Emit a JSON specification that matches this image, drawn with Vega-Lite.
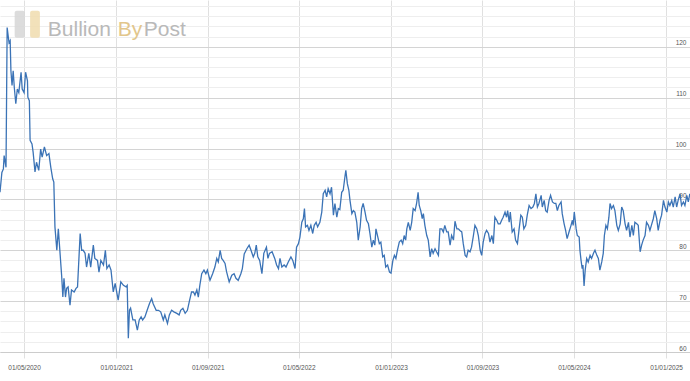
{
  "$schema": "https://vega.github.io/schema/vega-lite/v6.json",
  "width": 690,
  "height": 352,
  "autosize": {"type": "none"},
  "padding": {"left": 0, "top": 0, "right": 0, "bottom": 29},
  "background": "white",
  "config": {"view": {"stroke": null}, "font": "Liberation Sans"},
  "datasets": {
    "ratio": [
      {"d":"2020-02-27","v":91.4},{"d":"2020-03-03","v":95.3},{"d":"2020-03-07","v":96.0},{"d":"2020-03-09","v":98.6},{"d":"2020-03-14","v":96.3},
      {"d":"2020-03-17","v":123.8},{"d":"2020-03-22","v":120.8},{"d":"2020-03-25","v":121.2},{"d":"2020-03-27","v":115.3},{"d":"2020-03-30","v":112.4},
      {"d":"2020-04-02","v":115.3},{"d":"2020-04-05","v":112.0},{"d":"2020-04-09","v":108.8},{"d":"2020-04-13","v":111.7},{"d":"2020-04-17","v":111.0},
      {"d":"2020-04-23","v":115.0},{"d":"2020-04-26","v":111.7},{"d":"2020-05-01","v":111.0},{"d":"2020-05-05","v":115.0},{"d":"2020-05-10","v":113.3},
      {"d":"2020-05-11","v":110.1},{"d":"2020-05-15","v":109.4},{"d":"2020-05-17","v":101.6},{"d":"2020-05-22","v":100.9},{"d":"2020-05-25","v":99.3},
      {"d":"2020-05-30","v":95.4},{"d":"2020-06-03","v":97.3},{"d":"2020-06-09","v":95.7},{"d":"2020-06-14","v":99.9},{"d":"2020-06-18","v":98.3},
      {"d":"2020-06-24","v":100.3},{"d":"2020-06-30","v":98.6},{"d":"2020-07-06","v":99.0},{"d":"2020-07-11","v":96.3},{"d":"2020-07-16","v":94.05},
      {"d":"2020-07-19","v":93.4},{"d":"2020-07-22","v":84.6},{"d":"2020-07-27","v":80.0},{"d":"2020-07-31","v":84.2},{"d":"2020-08-04","v":80.0},
      {"d":"2020-08-09","v":74.8},{"d":"2020-08-12","v":70.8},{"d":"2020-08-15","v":74.5},{"d":"2020-08-19","v":70.8},{"d":"2020-08-22","v":72.5},
      {"d":"2020-08-26","v":72.8},{"d":"2020-08-31","v":69.2},{"d":"2020-09-04","v":72.2},{"d":"2020-09-11","v":71.8},{"d":"2020-09-16","v":72.5},
      {"d":"2020-09-20","v":72.8},{"d":"2020-09-27","v":83.3},{"d":"2020-10-01","v":80.0},{"d":"2020-10-05","v":80.0},{"d":"2020-10-10","v":79.4},
      {"d":"2020-10-14","v":76.7},{"d":"2020-10-20","v":79.4},{"d":"2020-10-25","v":76.7},{"d":"2020-11-01","v":81.0},{"d":"2020-11-05","v":78.4},
      {"d":"2020-11-12","v":78.0},{"d":"2020-11-16","v":75.7},{"d":"2020-11-21","v":78.0},{"d":"2020-11-28","v":77.1},{"d":"2020-12-03","v":80.0},
      {"d":"2020-12-07","v":76.4},{"d":"2020-12-13","v":77.1},{"d":"2020-12-18","v":76.1},{"d":"2020-12-24","v":71.8},{"d":"2020-12-29","v":73.5},
      {"d":"2021-01-02","v":71.8},{"d":"2021-01-06","v":70.2},{"d":"2021-01-13","v":73.8},{"d":"2021-01-20","v":73.1},{"d":"2021-01-27","v":72.8},
      {"d":"2021-01-30","v":73.1},{"d":"2021-02-02","v":62.7},{"d":"2021-02-05","v":68.2},{"d":"2021-02-08","v":68.6},{"d":"2021-02-14","v":66.3},
      {"d":"2021-02-20","v":66.3},{"d":"2021-02-26","v":64.3},{"d":"2021-03-03","v":66.3},{"d":"2021-03-08","v":66.9},{"d":"2021-03-12","v":66.3},
      {"d":"2021-03-18","v":66.9},{"d":"2021-03-24","v":68.2},{"d":"2021-03-30","v":69.5},{"d":"2021-04-05","v":70.5},{"d":"2021-04-09","v":69.5},
      {"d":"2021-04-17","v":68.2},{"d":"2021-04-23","v":68.2},{"d":"2021-04-29","v":67.9},{"d":"2021-05-06","v":66.3},{"d":"2021-05-10","v":67.3},
      {"d":"2021-05-17","v":65.6},{"d":"2021-05-22","v":67.3},{"d":"2021-05-28","v":68.2},{"d":"2021-06-03","v":67.9},{"d":"2021-06-11","v":67.6},
      {"d":"2021-06-17","v":67.3},{"d":"2021-06-21","v":68.2},{"d":"2021-06-27","v":68.6},{"d":"2021-07-03","v":67.6},{"d":"2021-07-09","v":68.2},
      {"d":"2021-07-14","v":69.9},{"d":"2021-07-20","v":71.8},{"d":"2021-07-25","v":71.8},{"d":"2021-07-29","v":71.2},{"d":"2021-08-03","v":72.2},
      {"d":"2021-08-07","v":70.8},{"d":"2021-08-11","v":73.1},{"d":"2021-08-16","v":75.4},{"d":"2021-08-22","v":76.1},{"d":"2021-08-27","v":75.4},
      {"d":"2021-08-31","v":76.1},{"d":"2021-09-07","v":74.1},{"d":"2021-09-14","v":75.4},{"d":"2021-09-20","v":76.7},{"d":"2021-09-25","v":78.4},
      {"d":"2021-09-29","v":77.7},{"d":"2021-10-04","v":80.0},{"d":"2021-10-08","v":78.4},{"d":"2021-10-12","v":78.0},{"d":"2021-10-17","v":77.4},
      {"d":"2021-10-21","v":75.8},{"d":"2021-10-28","v":73.8},{"d":"2021-11-04","v":75.1},{"d":"2021-11-10","v":75.4},{"d":"2021-11-15","v":74.5},
      {"d":"2021-11-21","v":74.1},{"d":"2021-11-28","v":75.4},{"d":"2021-12-02","v":76.4},{"d":"2021-12-07","v":79.3},{"d":"2021-12-14","v":80.3},
      {"d":"2021-12-20","v":81.0},{"d":"2021-12-25","v":80.0},{"d":"2021-12-31","v":78.7},{"d":"2022-01-04","v":79.4},{"d":"2022-01-08","v":81.0},
      {"d":"2022-01-12","v":78.7},{"d":"2022-01-17","v":78.0},{"d":"2022-01-23","v":75.4},{"d":"2022-01-28","v":79.4},{"d":"2022-02-04","v":80.6},
      {"d":"2022-02-08","v":78.4},{"d":"2022-02-12","v":79.4},{"d":"2022-02-19","v":79.7},{"d":"2022-02-26","v":78.4},{"d":"2022-03-03","v":77.1},
      {"d":"2022-03-08","v":76.4},{"d":"2022-03-12","v":78.4},{"d":"2022-03-17","v":76.7},{"d":"2022-03-23","v":77.1},{"d":"2022-03-28","v":76.7},
      {"d":"2022-04-03","v":77.7},{"d":"2022-04-10","v":78.7},{"d":"2022-04-15","v":78.0},{"d":"2022-04-21","v":76.4},{"d":"2022-04-25","v":80.6},
      {"d":"2022-04-30","v":81.3},{"d":"2022-05-04","v":82.6},{"d":"2022-05-09","v":85.5},{"d":"2022-05-13","v":86.2},{"d":"2022-05-16","v":88.2},
      {"d":"2022-05-19","v":84.6},{"d":"2022-05-24","v":84.9},{"d":"2022-05-28","v":83.9},{"d":"2022-06-02","v":84.9},{"d":"2022-06-07","v":83.3},
      {"d":"2022-06-11","v":84.9},{"d":"2022-06-16","v":85.5},{"d":"2022-06-20","v":84.6},{"d":"2022-06-26","v":85.5},{"d":"2022-07-01","v":87.5},
      {"d":"2022-07-05","v":91.1},{"d":"2022-07-10","v":91.8},{"d":"2022-07-14","v":90.5},{"d":"2022-07-18","v":92.1},{"d":"2022-07-23","v":91.1},
      {"d":"2022-07-27","v":92.4},{"d":"2022-08-01","v":86.9},{"d":"2022-08-05","v":89.2},{"d":"2022-08-10","v":86.5},{"d":"2022-08-14","v":88.2},
      {"d":"2022-08-18","v":88.0},{"d":"2022-08-23","v":91.4},{"d":"2022-08-27","v":91.8},{"d":"2022-09-01","v":94.7},{"d":"2022-09-03","v":95.7},
      {"d":"2022-09-07","v":93.1},{"d":"2022-09-11","v":91.8},{"d":"2022-09-14","v":89.8},{"d":"2022-09-19","v":87.2},{"d":"2022-09-23","v":87.8},
      {"d":"2022-09-27","v":87.5},{"d":"2022-10-02","v":85.5},{"d":"2022-10-06","v":82.0},{"d":"2022-10-11","v":84.6},{"d":"2022-10-15","v":88.2},
      {"d":"2022-10-19","v":89.2},{"d":"2022-10-24","v":87.5},{"d":"2022-10-28","v":85.9},{"d":"2022-11-02","v":85.2},{"d":"2022-11-06","v":83.3},
      {"d":"2022-11-11","v":80.6},{"d":"2022-11-15","v":82.0},{"d":"2022-11-19","v":81.0},{"d":"2022-11-22","v":84.2},{"d":"2022-11-27","v":82.6},
      {"d":"2022-12-01","v":81.3},{"d":"2022-12-05","v":81.6},{"d":"2022-12-10","v":78.7},{"d":"2022-12-14","v":79.0},{"d":"2022-12-18","v":76.7},
      {"d":"2022-12-23","v":77.1},{"d":"2022-12-28","v":75.7},{"d":"2023-01-01","v":75.5},{"d":"2023-01-06","v":78.0},{"d":"2023-01-10","v":79.0},
      {"d":"2023-01-14","v":78.4},{"d":"2023-01-18","v":80.0},{"d":"2023-01-23","v":81.6},{"d":"2023-01-28","v":82.0},{"d":"2023-02-01","v":81.3},
      {"d":"2023-02-05","v":82.9},{"d":"2023-02-09","v":82.0},{"d":"2023-02-12","v":84.2},{"d":"2023-02-16","v":85.5},{"d":"2023-02-21","v":83.9},
      {"d":"2023-02-25","v":85.5},{"d":"2023-03-01","v":88.2},{"d":"2023-03-06","v":87.8},{"d":"2023-03-10","v":89.2},{"d":"2023-03-14","v":91.4},
      {"d":"2023-03-17","v":88.8},{"d":"2023-03-21","v":87.8},{"d":"2023-03-25","v":86.2},{"d":"2023-03-28","v":87.2},{"d":"2023-04-01","v":84.9},
      {"d":"2023-04-06","v":82.9},{"d":"2023-04-10","v":82.0},{"d":"2023-04-15","v":78.7},{"d":"2023-04-19","v":80.3},{"d":"2023-04-23","v":79.4},
      {"d":"2023-04-28","v":80.3},{"d":"2023-05-02","v":79.7},{"d":"2023-05-07","v":79.0},{"d":"2023-05-11","v":84.2},{"d":"2023-05-16","v":84.2},
      {"d":"2023-05-20","v":83.6},{"d":"2023-05-24","v":84.9},{"d":"2023-05-29","v":83.6},{"d":"2023-06-02","v":83.6},{"d":"2023-06-07","v":81.0},
      {"d":"2023-06-11","v":82.9},{"d":"2023-06-16","v":82.0},{"d":"2023-06-20","v":85.7},{"d":"2023-06-25","v":84.2},{"d":"2023-06-29","v":84.2},
      {"d":"2023-07-03","v":83.9},{"d":"2023-07-08","v":83.6},{"d":"2023-07-12","v":81.3},{"d":"2023-07-17","v":79.0},{"d":"2023-07-21","v":78.7},
      {"d":"2023-07-25","v":80.0},{"d":"2023-07-30","v":79.7},{"d":"2023-08-03","v":80.6},{"d":"2023-08-08","v":82.9},{"d":"2023-08-12","v":84.9},
      {"d":"2023-08-17","v":84.2},{"d":"2023-08-21","v":82.9},{"d":"2023-08-26","v":80.0},{"d":"2023-08-30","v":79.0},{"d":"2023-09-03","v":81.6},
      {"d":"2023-09-08","v":83.3},{"d":"2023-09-12","v":83.9},{"d":"2023-09-17","v":83.3},{"d":"2023-09-21","v":81.6},{"d":"2023-09-26","v":82.9},
      {"d":"2023-09-30","v":81.3},{"d":"2023-10-04","v":86.5},{"d":"2023-10-09","v":85.9},{"d":"2023-10-13","v":85.2},{"d":"2023-10-18","v":85.2},
      {"d":"2023-10-22","v":85.9},{"d":"2023-10-26","v":86.5},{"d":"2023-10-31","v":87.5},{"d":"2023-11-04","v":86.5},{"d":"2023-11-07","v":87.8},
      {"d":"2023-11-11","v":85.5},{"d":"2023-11-14","v":87.5},{"d":"2023-11-19","v":83.6},{"d":"2023-11-24","v":84.2},{"d":"2023-11-28","v":82.0},
      {"d":"2023-12-03","v":81.3},{"d":"2023-12-07","v":83.9},{"d":"2023-12-12","v":86.9},{"d":"2023-12-16","v":86.5},{"d":"2023-12-20","v":84.2},
      {"d":"2023-12-25","v":84.9},{"d":"2023-12-29","v":86.9},{"d":"2024-01-03","v":88.8},{"d":"2024-01-08","v":88.2},{"d":"2024-01-13","v":88.5},
      {"d":"2024-01-17","v":89.2},{"d":"2024-01-21","v":91.1},{"d":"2024-01-25","v":88.5},{"d":"2024-01-29","v":89.2},{"d":"2024-02-04","v":90.8},
      {"d":"2024-02-07","v":88.5},{"d":"2024-02-12","v":89.8},{"d":"2024-02-16","v":87.8},{"d":"2024-02-20","v":87.5},{"d":"2024-02-25","v":89.8},
      {"d":"2024-02-29","v":90.8},{"d":"2024-03-05","v":89.5},{"d":"2024-03-10","v":89.2},{"d":"2024-03-14","v":89.2},{"d":"2024-03-18","v":87.8},
      {"d":"2024-03-22","v":88.8},{"d":"2024-03-28","v":89.5},{"d":"2024-03-31","v":87.2},{"d":"2024-04-05","v":85.2},{"d":"2024-04-09","v":83.9},
      {"d":"2024-04-13","v":82.3},{"d":"2024-04-18","v":83.6},{"d":"2024-04-23","v":84.8},{"d":"2024-04-27","v":85.9},{"d":"2024-04-29","v":84.9},
      {"d":"2024-05-02","v":87.5},{"d":"2024-05-07","v":84.2},{"d":"2024-05-10","v":82.9},{"d":"2024-05-15","v":82.6},{"d":"2024-05-17","v":80.0},
      {"d":"2024-05-20","v":78.0},{"d":"2024-05-23","v":76.4},{"d":"2024-05-25","v":77.1},{"d":"2024-05-28","v":73.0},{"d":"2024-05-31","v":76.1},
      {"d":"2024-06-04","v":78.4},{"d":"2024-06-08","v":77.7},{"d":"2024-06-13","v":79.0},{"d":"2024-06-17","v":78.4},{"d":"2024-06-22","v":79.4},
      {"d":"2024-06-26","v":80.0},{"d":"2024-07-01","v":79.0},{"d":"2024-07-05","v":78.4},{"d":"2024-07-09","v":76.1},{"d":"2024-07-14","v":77.7},
      {"d":"2024-07-18","v":79.4},{"d":"2024-07-21","v":82.9},{"d":"2024-07-25","v":84.9},{"d":"2024-07-29","v":84.2},{"d":"2024-08-02","v":86.5},
      {"d":"2024-08-05","v":89.2},{"d":"2024-08-09","v":88.2},{"d":"2024-08-14","v":88.8},{"d":"2024-08-18","v":87.8},{"d":"2024-08-23","v":84.9},
      {"d":"2024-08-27","v":83.9},{"d":"2024-09-01","v":85.2},{"d":"2024-09-05","v":88.5},{"d":"2024-09-09","v":87.8},{"d":"2024-09-14","v":85.2},
      {"d":"2024-09-18","v":83.9},{"d":"2024-09-23","v":85.5},{"d":"2024-09-27","v":82.6},{"d":"2024-10-02","v":84.9},{"d":"2024-10-06","v":82.9},
      {"d":"2024-10-10","v":85.5},{"d":"2024-10-15","v":85.2},{"d":"2024-10-19","v":84.9},{"d":"2024-10-24","v":79.7},{"d":"2024-10-28","v":81.0},
      {"d":"2024-11-01","v":82.0},{"d":"2024-11-06","v":82.9},{"d":"2024-11-10","v":85.5},{"d":"2024-11-15","v":84.9},{"d":"2024-11-19","v":83.9},
      {"d":"2024-11-24","v":85.2},{"d":"2024-11-28","v":86.2},{"d":"2024-12-02","v":87.8},{"d":"2024-12-07","v":86.2},{"d":"2024-12-11","v":83.9},
      {"d":"2024-12-16","v":85.9},{"d":"2024-12-20","v":86.9},{"d":"2024-12-25","v":89.8},{"d":"2024-12-29","v":88.5},{"d":"2025-01-03","v":87.5},
      {"d":"2025-01-07","v":89.5},{"d":"2025-01-11","v":88.8},{"d":"2025-01-16","v":89.8},{"d":"2025-01-20","v":88.5},{"d":"2025-01-25","v":90.5},
      {"d":"2025-01-29","v":88.5},{"d":"2025-02-02","v":89.8},{"d":"2025-02-07","v":91.1},{"d":"2025-02-11","v":88.8},{"d":"2025-02-16","v":89.5},
      {"d":"2025-02-20","v":88.8},{"d":"2025-02-25","v":90.8},{"d":"2025-03-01","v":89.5},{"d":"2025-03-05","v":91.1}
    ],
    "logoBoxes": [
      {"d":"2020-04-06","d2":"2020-05-03","v":121.8,"v2":127.1,"box":"grey"},
      {"d":"2020-05-17","d2":"2020-06-12","v":121.8,"v2":127.1,"box":"gold"}
    ],
    "logoWords": [
      {"d":"2020-07-03","v":122.2,"word":"Bullion","tone":"grey"},
      {"d":"2021-01-05","v":122.2,"word":"By","tone":"gold"},
      {"d":"2021-03-15","v":122.2,"word":"Post","tone":"grey"}
    ]
  },
  "layer": [
    {
      "data": {"name": "ratio"},
      "mark": {"type": "line", "color": "#3b73b6", "strokeWidth": 1.3, "clip": true, "interpolate": "linear"},
      "encoding": {
        "x": {
          "field": "d", "type": "temporal", "title": null,
          "scale": {"type": "utc", "domain": [{"year":2020,"month":2,"date":27,"utc":true},{"year":2025,"month":3,"date":5,"hours":12,"utc":true}]},
          "axis": {
            "title": null,
            "values": [
              {"year":2020,"month":5,"date":1,"utc":true},{"year":2021,"month":1,"date":1,"utc":true},
              {"year":2021,"month":9,"date":1,"utc":true},{"year":2022,"month":5,"date":1,"utc":true},
              {"year":2023,"month":1,"date":1,"utc":true},{"year":2023,"month":9,"date":1,"utc":true},
              {"year":2024,"month":5,"date":1,"utc":true},{"year":2025,"month":1,"date":1,"utc":true}
            ],
            "format": "%d/%m/%Y",
            "grid": true, "gridColor": "#e0e0e0", "gridWidth": 1,
            "ticks": true, "tickSize": 6, "tickColor": "#e0e0e0",
            "domain": true, "domainColor": "#cccccc",
            "labelFont": "Liberation Sans", "labelFontSize": 6.5, "labelColor": "#555555",
            "labelPadding": 6, "labelOverlap": false, "labelFlush": false
          }
        },
        "y": {
          "field": "v", "type": "quantitative", "title": null,
          "scale": {"domain": [60, 129.2], "nice": false, "zero": false},
          "axis": {
            "title": null, "orient": "right",
            "values": [60,62,64,66,68,70,72,74,76,78,80,82,84,86,88,90,92,94,96,98,100,102,104,106,108,110,112,114,116,118,120,122,124,126,128],
            "labelExpr": "datum.value % 10 === 0 ? datum.label : ''",
            "grid": true,
            "gridColor": {"condition": {"test": "datum.value % 10 === 0", "value": "#d4d4d4"}, "value": "#eeeeee"},
            "ticks": false, "tickSize": 0, "domain": false,
            "labelAlign": "right", "labelBaseline": "bottom", "labelPadding": -4, "labelOffset": -1,
            "labelFont": "Liberation Sans", "labelFontSize": 6.5, "labelColor": "#555555",
            "labelOverlap": false, "labelBound": false
          }
        }
      }
    },
    {
      "data": {"name": "logoBoxes"},
      "mark": {"type": "rect", "cornerRadius": 2, "opacity": 0.85},
      "encoding": {
        "x": {"field": "d", "type": "temporal", "axis": null},
        "x2": {"field": "d2"},
        "y": {"field": "v", "type": "quantitative", "axis": null},
        "y2": {"field": "v2"},
        "color": {"field": "box", "type": "nominal", "legend": null, "scale": {"domain": ["grey", "gold"], "range": ["#d6d6d6", "#f0dcae"]}}
      }
    },
    {
      "data": {"name": "logoWords"},
      "mark": {"type": "text", "align": "left", "baseline": "alphabetic", "font": "Liberation Sans", "fontSize": 21},
      "encoding": {
        "x": {"field": "d", "type": "temporal", "axis": null},
        "y": {"field": "v", "type": "quantitative", "axis": null},
        "text": {"field": "word"},
        "color": {"field": "tone", "type": "nominal", "legend": null, "scale": {"domain": ["grey", "gold"], "range": ["#b9b9b9", "#e2c68c"]}}
      }
    }
  ],
  "resolve": {"scale": {"color": "independent"}, "axis": {"x": "independent", "y": "independent"}}
}
